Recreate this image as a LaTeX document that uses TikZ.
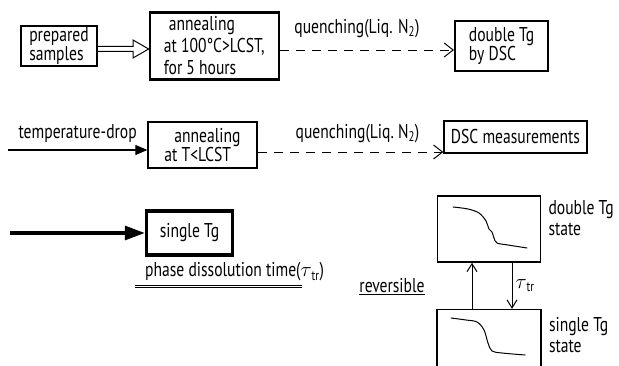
\documentclass[tikz,border=0pt]{standalone}
\usepackage{fontspec}
\setmainfont{PT Sans}[FakeStretch=0.78]
\usetikzlibrary{positioning,arrows.meta,calc}

\tikzset{
  every node/.style={font=\fontsize{20}{19}\selectfont, inner sep=2pt},
  box/.style={draw, line width=1.3pt, align=left, inner sep=1pt},
  heavybox/.style={box, line width=2.3pt},
  quench/.style={dash pattern=on 9pt off 7pt, line width=0.9pt,
    -{Straight Barb[length=9pt,width=14pt,line width=1pt]}},
  barb/.style={line width=1pt, -{Straight Barb[length=8pt,width=10pt]}},
  hollow/.style={line width=1pt, line join=miter},
  curve/.style={line width=1pt, line cap=round},
}

\begin{document}
\begin{tikzpicture}[x=1pt, y=-1pt, >=Latex]
  \clip (0,0) rectangle (619,366);

  % annealing above the LCST
  \node[box, minimum width=76pt, minimum height=40pt] (prep) at (59,46) {prepared\\samples};
  \node[heavybox, minimum width=129pt, minimum height=67pt, right=51pt of prep,
    font=\fontsize{20}{22}\selectfont] (hot) {\hspace{5pt}annealing\\at 100°C>LCST,\\for 5 hours};
  \node[heavybox, minimum width=93pt, minimum height=50pt, right=174pt of hot] (dtg) {double Tg\\by DSC};

  \draw[hollow] (prep.east |- 0,46.5) -- (133,46.5) -- (133,40) -- (hot.west |- 0,49)
    -- (133,58) -- (133,51.5) -- (prep.east |- 0,51.5);
  \draw[quench] (hot.east |- 0,50) -- (dtg.west |- 0,50)
    node[midway, above=10pt, xshift=-10pt] (q1) {quenching(Liq. N\textsubscript{2})};

  % annealing below the LCST
  \coordinate (drop) at (8,150);
  \node[box, minimum width=109pt, minimum height=46pt] (cold) at (202.5,145) {\hspace{10pt}annealing\\at T<LCST};
  \node[box, minimum width=143pt, minimum height=32pt] (meas) at (515.5,137) {DSC measurements};

  \draw[line width=1.2pt, -{Triangle[length=12pt,width=10pt]}] (drop) -- (drop -| cold.west)
    node[midway, above=5pt] (tlab) {temperature-drop};
  \draw[quench] (cold.east |- 0,152) -- (meas.west |- 0,152)
    node[midway, above=7pt, xshift=7pt] (q2) {quenching(Liq.\ N\textsubscript{2})};

  % result
  \coordinate (feed) at (10,233);
  \node[draw, line width=3.5pt, minimum width=86pt, minimum height=44pt, inner sep=2pt] (single) at (189.5,233) {single Tg};
  \draw[line width=3.2pt, -{Triangle[length=20pt,width=14pt]}] (feed) -- (single.west);

  \node[anchor=west] (phase) at (143,272) {phase dissolution time(\(\tau\)\textsubscript{tr})};
  \draw[double, double distance=1.6pt, line width=0.7pt] (135,286.5) -- (302,286.5);

  % DSC traces of the two states
  \node[box, line width=1.6pt, minimum width=103pt, minimum height=66pt] (dbl) at (489,229) {};
  \node[box, line width=1.6pt, minimum width=104pt, minimum height=80pt, below=46pt of dbl] (sgl) {};

  \draw[curve] plot[smooth, tension=0.55] coordinates {(453,207) (468,209) (479,213) (486,221) (489,229)
    (492,232) (494,238) (497,243) (508,245) (527,248)};
  \draw[curve] plot[smooth, tension=0.55] coordinates {(451,318) (466,320) (477,322) (484,330)
    (488,343) (492,351) (502,353) (525,355)};

  \node[anchor=north west, align=left, font=\fontsize{20}{21}\selectfont] (dbltext)
    at ([xshift=5pt,yshift=-3pt]dbl.north east) {double Tg\\state};
  \node[anchor=north west, align=left, font=\fontsize{20}{21}\selectfont] (sgltext)
    at ([xshift=5pt,yshift=-6pt]sgl.north east) {single Tg\\state};

  \draw[barb] ([xshift=-17pt]sgl.north) -- ([xshift=-17pt]dbl.south);
  \draw[barb] ([xshift=23pt]dbl.south) -- ([xshift=23pt]sgl.north)
    node[midway, right=1pt] (tau) {\(\tau\)\textsubscript{tr}};
  \node (rev) at (392,287) {\underline{reversible}};
\end{tikzpicture}
\end{document}
